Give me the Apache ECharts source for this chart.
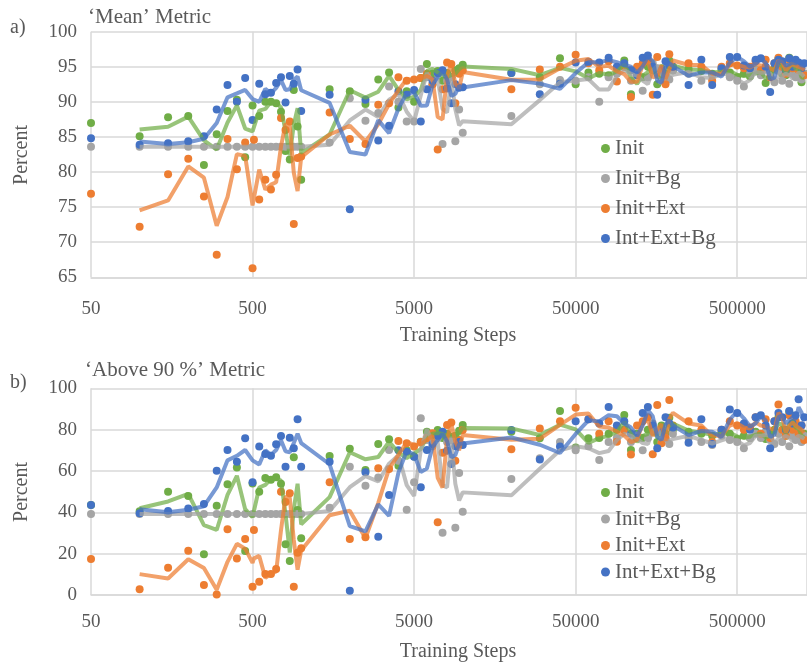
<!DOCTYPE html>
<html><head><meta charset="utf-8">
<script src="https://cdn.jsdelivr.net/npm/echarts@6/dist/echarts.min.js"></script>
<style>html,body{margin:0;padding:0;background:#fff}#c{width:807px;height:667px}</style>
</head><body><div id="c"></div>
<script>
// ---- data ----
const steps = [50,100,150,200,250,300,350,400,450,500,510,550,600,650,700,750,800,850,900,950,1000,
  1500,2000,2500,3000,3500,4000,4500,5000,5500,6000,6500,7000,7500,8000,8500,9000,9500,10000,
  20000,30000,40000,
  50000,60000,70000,80000,90000,100000,110000,120000,130000,140000,150000,160000,170000,180000,190000,200000,
  250000,300000,350000,400000,450000,500000,550000,600000,650000,700000,750000,800000,850000,900000,950000,1000000,1050000,1100000,1150000,1200000,1250000,1300000];

const seriesNames = ['Init','Init+Bg','Init+Ext','Int+Ext+Bg'];
const xTickLabels = ['50','500','5000','50000','500000'];
const meanYTicks = [65,70,75,80,85,90,95,100];
const aboveYTicks = [0,20,40,60,80,100];

// 'Mean' metric
const meanInit = [87.0,85.1,87.8,88.0,81.0,85.4,88.7,90.3,82.1,89.5,null,88.0,90.0,90.0,89.8,88.6,83.0,81.8,91.7,86.5,78.9,
  91.8,91.5,89.7,93.2,94.2,89.2,91.5,90.0,93.4,95.4,94.0,94.4,93.0,94.1,93.5,94.5,94.8,95.3,
  94.1,93.5,96.2,
  92.5,94.2,94.0,93.8,94.8,95.9,91.1,94.0,93.5,95.0,94.5,92.5,94.8,93.8,95.9,94.5,
  94.7,94.4,94.0,94.6,94.2,93.5,94.0,93.6,94.5,94.0,92.7,94.4,94.8,96.1,94.0,93.8,96.3,94.5,95.0,94.2,92.8,94.0];
const meanInitBg = [83.6,83.6,83.6,83.6,83.6,83.6,83.6,83.6,83.6,83.6,null,83.6,83.6,83.6,83.6,83.6,83.6,83.6,83.6,83.6,83.6,
  84.2,90.5,87.3,88.4,92.2,90.0,87.2,87.2,94.7,93.5,92.5,94.0,84.0,93.0,93.5,84.4,88.9,85.6,
  88.0,92.5,93.1,
  93.0,93.5,90.0,93.5,94.0,95.0,93.0,94.5,91.6,93.5,95.5,94.8,93.0,94.0,93.2,94.5,
  94.0,93.0,93.8,94.2,93.5,93.0,92.2,94.0,94.5,93.8,94.6,93.5,92.8,94.4,93.0,95.0,92.6,94.0,93.5,94.8,93.2,94.0];
const meanInitExt = [76.9,72.2,79.7,81.9,76.5,68.2,84.7,80.4,84.2,66.3,84.6,76.1,78.9,77.5,79.6,87.7,86.0,87.2,72.6,82.0,82.2,
  88.5,84.7,84.0,89.6,89.8,93.5,93.0,93.2,93.4,94.0,92.5,83.2,91.8,95.6,95.4,89.8,94.0,94.5,
  91.8,94.6,95.0,
  96.7,95.5,94.5,95.8,92.9,95.0,90.7,95.0,95.5,96.0,91.0,96.4,94.0,92.5,96.8,95.0,
  95.5,95.0,93.0,95.0,95.5,95.2,94.8,95.0,95.8,94.5,96.0,93.5,95.5,96.3,95.0,94.0,96.0,94.8,95.5,94.5,95.2,93.8];
const meanIntExtBg = [84.8,83.9,84.1,84.4,85.1,88.9,92.4,90.0,93.4,87.4,null,92.6,91.1,91.3,92.7,93.5,89.9,93.7,92.6,94.6,88.7,
  91.0,74.7,90.3,84.5,86.6,91.5,91.0,91.7,87.2,91.8,93.0,94.1,94.5,91.9,89.8,92.5,92.0,92.1,
  94.1,91.1,92.6,
  95.6,95.7,95.6,96.3,95.0,95.5,94.5,93.8,96.3,96.6,95.0,91.0,94.5,95.8,95.2,95.0,
  92.4,96.0,92.4,94.8,96.4,96.4,95.2,94.8,96.0,96.2,95.0,91.4,95.5,96.0,95.8,94.5,96.2,95.0,96.0,95.6,94.8,95.5];

// 'Above 90 %' metric
const aboveInit = [43.5,40.5,50.0,47.9,19.7,43.2,53.6,61.7,21.3,54.0,null,50.0,56.6,55.8,57.0,53.8,24.6,16.4,66.6,41.1,27.4,
  67.3,70.8,60.5,73.0,75.3,62.5,70.0,67.0,74.2,79.0,77.0,79.8,76.0,78.0,76.5,77.0,79.5,82.2,
  79.0,75.8,89.0,
  71.3,75.8,76,78,80,87.1,70.2,78,76,80,79,74,82,78,85.8,80,
  79,78,77,79,78,75.5,77,76,79,77,75.5,78,80,86,79,77,88.7,80,82,79,75,78];
const aboveInitBg = [39.2,39.2,39.2,39.2,39.2,39.2,39.2,39.2,39.2,39.2,null,39.2,39.2,39.2,39.2,39.2,39.2,39.2,39.2,39.2,39.2,
  42.2,62.1,52.9,56.9,70.2,65.0,41.3,54.6,85.5,75.0,72.0,76.0,30.1,74.0,75.0,32.5,59.0,40.3,
  56.1,66.1,74,
  70,72,65.3,74,76,80,74,77,70,76,83,79,74,76,73,78,
  76,74,72.6,77,75,74,71.0,76,78,76,79,75,73,78,74,80,72,77,75,79,74,77];
const aboveInitExt = [17.4,2.8,13.2,21.4,4.8,0.3,31.8,17.7,27.1,4.0,31.4,6.4,10.2,10.2,12.6,50.0,45.0,49.2,4.0,20.5,22.6,
  54.5,27.1,27.9,61.3,61.0,74.5,73.4,71.8,74.0,76.0,78.2,35.2,68.8,82.2,83.4,65.0,75.0,79.8,
  70.5,80.6,84.0,
  90.6,85,78,84,74.2,80,68,82,84,86,68.1,91.9,73.4,76,94.3,82,
  84,80,74,80,84,82,80,81,86,78,85,76,84,92.2,80,77,87,80,84,78,82,75];
const aboveIntExtBg = [43.5,39.5,40.6,41.9,44.0,60.1,70.2,64.5,75.8,54.5,null,71.8,68.2,67.4,72.9,76.9,62.1,76.1,71.0,85.0,62.0,
  64.5,2.1,59.4,28.2,48.4,70.0,69.3,66.9,52.1,70.2,73.0,77.0,79.0,69.8,63.4,72.0,74.0,72.6,
  79.8,65.6,71.8,
  84,85,83,91,82,84,78,76,88,91,82,71,79,86,83,81,
  73.7,85.0,73.0,80,89.8,88,83,80,86,87,82,71,84,88,86,80,89,83,87,94.7,82,86];

// ---- styling ----
const dotColors = ['#70AD47','#A5A5A5','#ED7D31','#4472C4'];
const FONT = 'Liberation Serif';
const TXT = '#595959';
const BASE = 50;              // first tick of the log axis
const DECADE_PX = 162;
const PLOT_LEFT = 91, PLOT_RIGHT = -2;
const UMAX = (807 - PLOT_RIGHT - PLOT_LEFT) / DECADE_PX;   // decades shown

// x coordinate = number of decades above 50 (log10 scale)
const lx = (s) => Math.log10(s / BASE);

function pts(vals){
  const out=[];
  steps.forEach((s,i)=>{ if(vals[i]!=null) out.push([lx(s), vals[i]]); });
  return out;
}
// Excel-style 2-period moving average trendline
function movingAvg(vals){
  const out=[]; let prev=null;
  steps.forEach((s,i)=>{ const v=vals[i]; if(v==null) return; if(prev!=null) out.push([lx(s),(prev+v)/2]); prev=v; });
  return out;
}

const chart = echarts.init(document.getElementById('c'), null, {renderer:'canvas'});
const grids = [
  {left:PLOT_LEFT, right:PLOT_RIGHT, top:31.7, height:245.6},
  {left:PLOT_LEFT, right:PLOT_RIGHT, top:388.3, height:206.7}
];
function xAxis(gi, margin){
  return {type:'value', gridIndex:gi, min:0, max:UMAX, interval:1,
    axisLine:{show:true, lineStyle:{color:'#d9d9d9', width:1.5}},
    axisTick:{show:false},
    splitLine:{show:true, lineStyle:{color:'#d9d9d9', width:1.5}},
    axisLabel:{show:true, showMaxLabel:false, margin:margin, fontFamily:FONT, fontSize:19, color:TXT,
      formatter:(v)=>{const k=Math.round(v); return Math.abs(v-k)<1e-3 ? (xTickLabels[k]||'') : '';}}
  };
}
function yAxis(gi, ticks){
  return {type:'value', gridIndex:gi, min:ticks[0], max:ticks[ticks.length-1], interval:ticks[1]-ticks[0],
    axisLine:{show:false}, axisTick:{show:false},
    splitLine:{show:true, lineStyle:{color:'#d9d9d9', width:1.5}},
    axisLabel:{margin:14, fontFamily:FONT, fontSize:19, color:TXT}
  };
}
const groups = [
  [meanInit, meanInitBg, meanInitExt, meanIntExtBg],
  [aboveInit, aboveInitBg, aboveInitExt, aboveIntExtBg]
];
const series = [];
groups.forEach((g,gi)=>{
  g.forEach((vals,k)=>{
    series.push({name:seriesNames[k], type:'scatter', xAxisIndex:gi, yAxisIndex:gi,
      data:pts(vals), symbol:'circle', symbolSize:8, itemStyle:{color:dotColors[k], opacity:1}, z:2, silent:true});
  });
  g.forEach((vals,k)=>{
    series.push({name:seriesNames[k]+' trend', type:'line', xAxisIndex:gi, yAxisIndex:gi,
      data:movingAvg(vals), showSymbol:false, symbol:'none', smooth:false,
      lineStyle:{color:dotColors[k], width:4, opacity:0.72}, z:3, silent:true});
  });
});
function legend(top, gap){
  return {data:seriesNames, orient:'vertical', left:601, top:top, padding:0, itemGap:gap,
    icon:'circle', itemWidth:9, itemHeight:9, selectedMode:false,
    textStyle:{fontFamily:FONT, fontSize:21, lineHeight:21, color:TXT}};
}
function gtext(x,y,text,size){
  return {type:'text', x:x, y:y, silent:true,
    style:{text:text, font:size+'px "'+FONT+'"', fill:TXT, align:'left', verticalAlign:'middle', textAlign:'left', textVerticalAlign:'middle'}};
}
const rot = (x,y,text)=>({type:'text', x:x, y:y, rotation:Math.PI/2, silent:true,
  style:{text:text, font:'20px "'+FONT+'"', fill:TXT, align:'center', verticalAlign:'middle', textAlign:'center', textVerticalAlign:'middle'}});
const ctr = (x,y,text)=>({type:'text', x:x, y:y, silent:true,
  style:{text:text, font:'20px "'+FONT+'"', fill:TXT, align:'center', verticalAlign:'middle', textAlign:'center', textVerticalAlign:'middle'}});

chart.setOption({
  animation:false,
  grid:grids,
  xAxis:[xAxis(0, 22), xAxis(1, 18)],
  yAxis:[yAxis(0, meanYTicks), yAxis(1, aboveYTicks)],
  legend:[legend(138, 9), legend(482, 5.5)],
  series:series,
  graphic:[
    gtext(10,28,'a)',20),
    gtext(88,17,'\u2018Mean\u2019 Metric',21),
    gtext(10,383,'b)',20),
    gtext(85,370,'\u2018Above 90 %\u2019 Metric',21),
    rot(22,155,'Percent'),
    rot(22,492,'Percent'),
    ctr(458,336,'Training Steps'),
    ctr(458,652,'Training Steps')
  ]
});
</script></body></html>
